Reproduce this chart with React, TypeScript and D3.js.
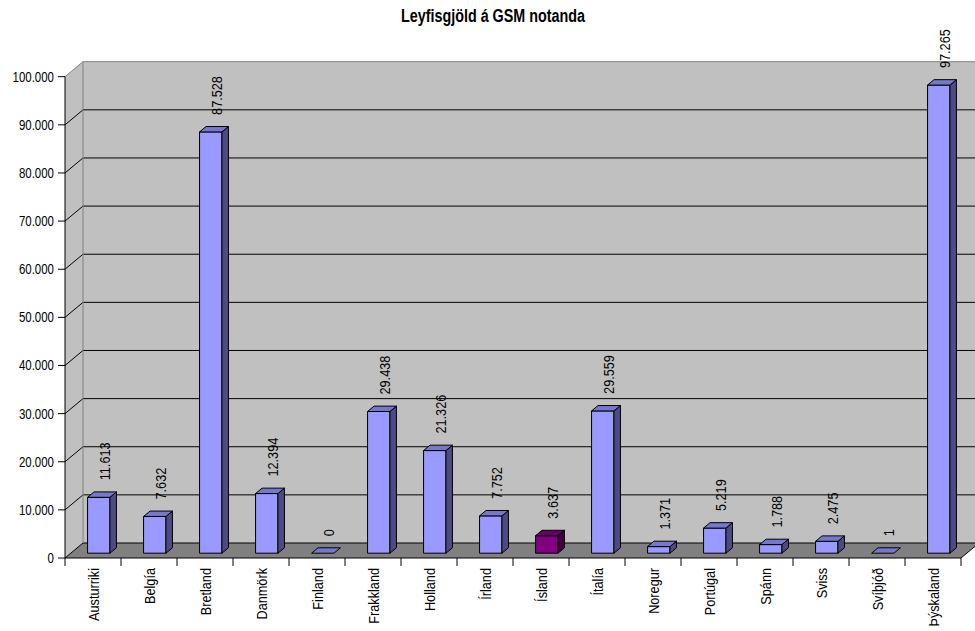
import React from "react";
import * as d3 from "d3";

const categories = [
  "Austurriki", "Belgía", "Bretland", "Danmörk", "Finland", "Frakkland",
  "Holland", "Írland", "Ísland", "Ítalía", "Noregur", "Portúgal",
  "Spánn", "Sviss", "Svíþjóð", "Þýskaland",
];
const values = [
  11613, 7632, 87528, 12394, 0, 29438, 21326, 7752, 3637, 29559, 1371, 5219,
  1788, 2475, 1, 97265,
];
const highlighted = ["Ísland"];
const yTicks = [0, 10000, 20000, 30000, 40000, 50000, 60000, 70000, 80000, 90000, 100000];
const title = "Leyfisgjöld á GSM notanda";

const W = 975;
const H = 631;
const FONT = "'Liberation Sans', Arial, sans-serif";
// no narrow font installed, squeeze Liberation Sans like Arial Narrow
const NARROW = 0.82;

// depth of the 3D box
const DX = 18;
const DY = 15;

const fmt = (v: number) => d3.format(",")(v).replace(/,/g, ".");

export default function App() {
  const x = d3.scaleBand<string>().domain(categories).range([65, 961]).padding(0);
  const y = d3.scaleLinear().domain([0, 100000]).range([558, 76.7]);

  const x0 = 65;
  const x1 = x.range()[1];
  const yTop = y(100000);
  const y0 = y(0);

  // bar sits between depth d0 and d1
  const d0 = 0.32;
  const d1 = 0.68;
  const bw = x.bandwidth() * 0.4;
  const ddx = (d1 - d0) * DX;
  const ddy = (d1 - d0) * DY;

  const pts = (p: [number, number][]) => p.map((q) => q.join(",")).join(" ");

  return (
    <div style={{ position: "absolute", left: 0, top: 0 }}>
      <svg width={W} height={H} style={{ display: "block", background: "#fff" }} fontFamily={FONT}>
        <text
          transform={`translate(493,22) scale(${NARROW},1)`}
          textAnchor="middle"
          fontSize={17.5}
          fontWeight="bold"
        >
          {title}
        </text>

        {/* back wall */}
        <rect x={x0 + DX} y={yTop - DY} width={x1 - x0 + 20} height={y0 - yTop} fill="#c0c0c0" />
        {/* left side wall */}
        <polygon
          points={pts([[x0, y0], [x0, yTop], [x0 + DX, yTop - DY], [x0 + DX, y0 - DY]])}
          fill="#c0c0c0"
        />
        {/* floor */}
        <polygon
          points={pts([[x0, y0], [x1, y0], [x1 + DX, y0 - DY], [x0 + DX, y0 - DY]])}
          fill="#808080"
        />

        {/* gridlines */}
        {yTicks.slice(0, -1).map((t) => (
          <polyline
            key={t}
            points={pts([[x0, y(t)], [x0 + DX, y(t) - DY], [W + 5, y(t) - DY]])}
            fill="none"
            stroke="#000"
            strokeWidth={1}
          />
        ))}
        {/* wall edges */}
        <polyline
          points={pts([[x0, yTop], [x0 + DX, yTop - DY], [W + 5, yTop - DY]])}
          fill="none"
          stroke="#808080"
        />
        <line x1={x0 + DX} y1={yTop - DY} x2={x0 + DX} y2={y0 - DY} stroke="#808080" />
        <line x1={x1} y1={y0} x2={x1 + DX} y2={y0 - DY} stroke="#000" />

        {/* bars */}
        {categories.map((c, i) => {
          const v = values[i];
          const hi = highlighted.includes(c);
          const front = hi ? "#800080" : "#9999ff";
          const top = hi ? "#660066" : "#7777cc";
          const side = hi ? "#400040" : "#4c4c80";
          const bx = (x(c) as number) + (x.bandwidth() - bw) / 2 + d0 * DX;
          const by = y0 - d0 * DY;
          const ty = y(v) - d0 * DY;
          return (
            <g key={c} stroke="#000" strokeWidth={1} strokeLinejoin="round">
              {v > 200 && <rect x={bx} y={ty} width={bw} height={by - ty} fill={front} />}
              {v > 200 && (
                <polygon
                  points={pts([[bx + bw, by], [bx + bw, ty], [bx + bw + ddx, ty - ddy], [bx + bw + ddx, by - ddy]])}
                  fill={side}
                />
              )}
              <polygon
                points={pts([[bx, ty], [bx + bw, ty], [bx + bw + ddx, ty - ddy], [bx + ddx, ty - ddy]])}
                fill={top}
              />
            </g>
          );
        })}

        {/* value labels */}
        {categories.map((c, i) => {
          const v = values[i];
          const lx = (x(c) as number) + x.bandwidth() / 2 + d0 * DX + 6;
          const ly = y(v) - d0 * DY - 17;
          return (
            <text
              key={c}
              transform={`translate(${lx},${ly}) rotate(-90) scale(${NARROW},1)`}
              fontSize={15.5}
              dominantBaseline="central"
              textAnchor="start"
            >
              {fmt(v)}
            </text>
          );
        })}

        {/* axes */}
        <line x1={x0} y1={yTop} x2={x0} y2={y0} stroke="#000" />
        <line x1={x0} y1={y0} x2={x1} y2={y0} stroke="#000" />
        {yTicks.map((t) => (
          <g key={t}>
            <line x1={x0 - 7} y1={y(t)} x2={x0} y2={y(t)} stroke="#000" />
            <text
              transform={`translate(${x0 - 11},${y(t)}) scale(${NARROW},1)`}
              textAnchor="end"
              dominantBaseline="central"
              fontSize={14}
            >
              {fmt(t)}
            </text>
          </g>
        ))}
        {[...categories.map((c) => x(c) as number), x1].map((bx, i) => (
          <line key={i} x1={bx} y1={y0} x2={bx} y2={y0 + 8} stroke="#000" />
        ))}
        {categories.map((c) => (
          <text
            key={c}
            transform={`translate(${(x(c) as number) + x.bandwidth() / 2 + 1},${y0 + 10}) rotate(-90) scale(${NARROW},1)`}
            textAnchor="end"
            dominantBaseline="central"
            fontSize={15.5}
          >
            {c}
          </text>
        ))}
      </svg>
    </div>
  );
}
